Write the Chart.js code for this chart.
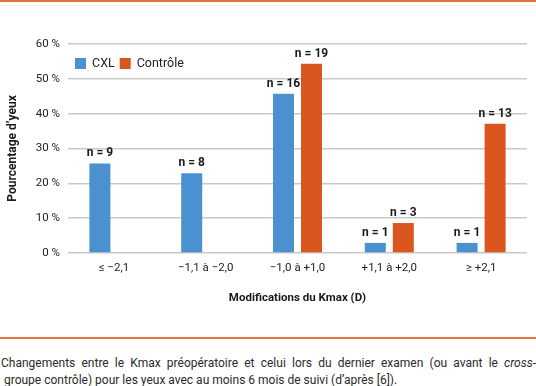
<!DOCTYPE html>
<html>
<head>
<meta charset="utf-8">
<script src="https://cdn.jsdelivr.net/npm/chart.js@4"></script>
<style>
  html, body { margin: 0; padding: 0; background: #fff; }
  #page { position: relative; width: 536px; height: 386px; overflow: hidden; font-family: Roboto, sans-serif; }
  #topline { position: absolute; left: 0; top: 0; width: 536px; height: 2px; background: #e2703f; }
  #topline2 { position: absolute; left: 0; top: 5px; width: 536px; height: 1px; background: #f6ebe4; }
  #wrap { position: absolute; left: 0; top: 0; width: 536px; height: 320px; }
  #rule { position: absolute; left: 0; top: 337px; width: 536px; height: 2px; background: #e2703f; }
  #caption { position: absolute; left: 1px; top: 355px; width: 535px; font-size: 12px; line-height: 17px; color: #2a2a2a; white-space: nowrap; }
  #caption .l1 { text-align: justify; text-align-last: justify; }
</style>
</head>
<body>
<div id="page">
  <div id="topline"></div>
  <div id="topline2"></div>
  <div id="wrap"><canvas id="chart"></canvas></div>
  <div id="rule"></div>
  <div id="caption">
    <div class="l1">Changements entre le Kmax préopératoire et celui lors du dernier examen (ou avant le <i>cross</i>-</div>
    <div>&nbsp;groupe contrôle) pour les yeux avec au moins 6 mois de suivi (d’après [6]).</div>
  </div>
</div>
<script>
// categories and values (percentage of eyes)
const categories = ['≤ −2,1', '−1,1 à −2,0', '−1,0 à +1,0', '+1,1 à +2,0', '≥ +2,1'];
const cxlValues = [25.7, 22.9, 45.7, 2.9, 2.9];
const controleValues = [null, null, 54.3, 8.6, 37.1];
const cxlCounts = [9, 8, 16, 1, 1];
const controleCounts = [null, null, 19, 3, 13];
const yTicks = [0, 10, 20, 30, 40, 50, 60];

const blue = '#4b91d0';
const orange = '#d9561f';

// "n = x" labels above each bar
const countLabels = {
  id: 'countLabels',
  afterDatasetsDraw(chart) {
    const ctx = chart.ctx;
    const counts = [cxlCounts, controleCounts];
    ctx.save();
    ctx.font = 'bold 12px Roboto';
    ctx.fillStyle = '#1a1a1a';
    ctx.textAlign = 'center';
    ctx.textBaseline = 'bottom';
    chart.data.datasets.forEach((ds, i) => {
      chart.getDatasetMeta(i).data.forEach((bar, j) => {
        if (counts[i][j] == null) return;
        ctx.fillText('n = ' + counts[i][j], bar.x, bar.y - 4);
      });
    });
    ctx.restore();
  }
};

// legend drawn inside the plot, top left
const innerLegend = {
  id: 'innerLegend',
  afterDraw(chart) {
    const ctx = chart.ctx;
    const area = chart.chartArea;
    let x = area.left + 7;
    const y = area.top + 19;
    ctx.save();
    ctx.font = '12.5px Roboto';
    ctx.textBaseline = 'middle';
    chart.data.datasets.forEach(ds => {
      ctx.fillStyle = ds.backgroundColor;
      ctx.fillRect(x, y - 5, 11, 11);
      x += 17;
      ctx.fillStyle = '#222';
      ctx.fillText(ds.label, x, y + 1);
      x += ctx.measureText(ds.label).width + 5;
    });
    ctx.restore();
  }
};

new Chart(document.getElementById('chart'), {
  type: 'bar',
  data: {
    labels: categories,
    datasets: [
      { label: 'CXL', data: cxlValues, backgroundColor: blue },
      { label: 'Contrôle', data: controleValues, backgroundColor: orange }
    ]
  },
  options: {
    responsive: true,
    maintainAspectRatio: false,
    animation: false,
    layout: { padding: { top: 44, right: 9, bottom: 0, left: 0 } },
    datasets: { bar: { categoryPercentage: 0.61, barPercentage: 0.75 } },
    scales: {
      x: {
        grid: { display: false, drawTicks: false },
        border: { display: false },
        ticks: { color: '#222', font: { family: 'Roboto', size: 11.5 }, padding: 8, maxRotation: 0 },
        title: { display: true, text: 'Modifications du Kmax (D)', color: '#1a1a1a',
                 font: { family: 'Roboto', size: 11.5, weight: 'bold' }, padding: { bottom: 15 } },
        afterFit(scale) { scale.height = 67; }
      },
      y: {
        min: 0,
        max: 60,
        afterBuildTicks(scale) { scale.ticks = yTicks.map(v => ({ value: v })); },
        grid: { color: '#c9c9c9', lineWidth: 1.5, drawTicks: false },
        border: { display: false },
        ticks: { color: '#222', font: { family: 'Roboto', size: 11.5 }, padding: 8,
                 callback: v => v + ' %' },
        title: { display: true, text: 'Pourcentage d’yeux', color: '#1a1a1a',
                 font: { family: 'Roboto', size: 12, weight: 'bold' }, padding: { top: 6 } },
        afterFit(scale) { scale.width = 68; }
      }
    },
    plugins: {
      legend: { display: false },
      tooltip: { enabled: false }
    }
  },
  plugins: [countLabels, innerLegend]
});
</script>
</body>
</html>
